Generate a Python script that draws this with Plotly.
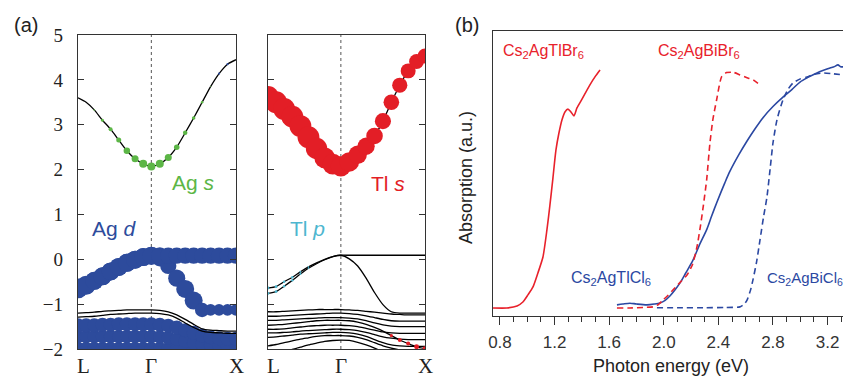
import plotly.graph_objects as go

# ---------------- DATA ----------------
# k-path positions (L -> Gamma -> X)
K = [0.0, 0.096, 0.192, 0.289, 0.385, 0.481, 0.577, 0.674, 0.770, 0.866,
     0.966, 1.066, 1.166, 1.266, 1.366, 1.466, 1.566, 1.666, 1.766, 1.866]
K_TICKS = [0.0, 0.866, 1.866]
K_LABELS = ["L", "Γ", "X"]

# left panel (Ag projections)
L_cb = [3.60, 3.50, 3.33, 3.10, 2.90, 2.66, 2.42, 2.24, 2.13, 2.07,
        2.13, 2.27, 2.50, 2.82, 3.15, 3.50, 3.85, 4.14, 4.35, 4.45]
L_cb_AgS = [0, 0, 0.15, 0.3, 0.4, 0.5, 0.65, 0.7, 0.8, 0.8,
            0.8, 0.7, 0.55, 0.45, 0.35, 0.25, 0.1, 0, 0, 0]
L_cb_AgD = [0, 0, 0, 0, 0, 0, 0, 0, 0, 0,
            0, 0, 0, 0, 0, 0, 0, 0.12, 0.12, 0]
L_d1 = [-0.65, -0.58, -0.48, -0.38, -0.27, -0.17, -0.08, -0.01, 0.05, 0.08,
        0.08, 0.08, 0.08, 0.08, 0.08, 0.08, 0.08, 0.08, 0.08, 0.08]
L_d1_w = [1.1, 1.05, 1, 1, 1, 1, 1, 1, 1, 1,
          0.95, 0.9, 0.9, 0.9, 0.9, 0.9, 0.9, 0.9, 0.9, 0.9]
L_d2 = [-0.65, -0.58, -0.48, -0.38, -0.27, -0.17, -0.08, -0.01, 0.05, 0.08,
        0.02, -0.15, -0.42, -0.66, -0.92, -1.13, -1.13, -1.13, -1.13, -1.13]
L_d2_w = [1, 1, 1, 1, 1, 1, 1, 1, 1, 1,
          0.9, 0.9, 0.95, 1.0, 1.0, 0.8, 0.65, 0.65, 0.65, 0.65]
L_d3 = [-1.47, -1.47, -1.47, -1.46, -1.46, -1.45, -1.45, -1.45, -1.45, -1.45,
        -1.46, -1.48, -1.52, -1.58, -1.64, -1.70, -1.74, -1.76, -1.77, -1.77]
L_d3_w = [0.78] * 20
L_d4 = [-1.72, -1.72, -1.72, -1.72, -1.72, -1.72, -1.72, -1.72, -1.72, -1.72,
        -1.73, -1.75, -1.78, -1.82, -1.86, -1.89, -1.91, -1.92, -1.92, -1.92]
L_d4_w = [0.75] * 20
L_d5 = [-1.99] * 20
L_d5_w = [0.75] * 20
L_c1 = [-1.20, -1.19, -1.18, -1.16, -1.15, -1.14, -1.13, -1.13, -1.13, -1.13,
        -1.14, -1.17, -1.24, -1.34, -1.45, -1.55, -1.58, -1.59, -1.60, -1.60]
L_c2 = [-1.29, -1.28, -1.27, -1.25, -1.23, -1.22, -1.21, -1.20, -1.20, -1.20,
        -1.21, -1.24, -1.31, -1.42, -1.52, -1.60, -1.63, -1.64, -1.65, -1.65]

# right panel (Tl projections)
R_cb = [3.62, 3.50, 3.35, 3.18, 2.97, 2.72, 2.47, 2.26, 2.12, 2.07,
        2.17, 2.33, 2.52, 2.75, 3.08, 3.50, 3.88, 4.20, 4.41, 4.53]
R_cb_TlS = [0.95, 0.95, 0.95, 0.95, 0.95, 0.95, 0.93, 0.9, 0.9, 0.88,
            0.85, 0.8, 0.75, 0.72, 0.7, 0.68, 0.66, 0.65, 0.65, 0.65]
R_v1 = [-0.64, -0.61, -0.50, -0.40, -0.28, -0.17, -0.08, 0.0, 0.06, 0.09,
        0.01, -0.15, -0.42, -0.74, -1.01, -1.17, -1.20, -1.20, -1.20, -1.20]
R_v2 = [-0.76, -0.72, -0.60, -0.47, -0.33, -0.20, -0.10, -0.01, 0.06, 0.09,
        0.09, 0.09, 0.09, 0.09, 0.09, 0.09, 0.09, 0.09, 0.09, 0.09]
R_v_TlP = [0.35, 0.35, 0.3, 0.3, 0.25, 0.2, 0, 0, 0, 0,
           0, 0, 0, 0, 0, 0, 0, 0, 0, 0]
R_r1 = [-1.17, -1.17, -1.16, -1.15, -1.14, -1.13, -1.12, -1.12, -1.12, -1.12,
        -1.13, -1.14, -1.16, -1.18, -1.20, -1.22, -1.23, -1.24, -1.24, -1.24]
R_r2 = [-1.27, -1.27, -1.26, -1.25, -1.24, -1.23, -1.22, -1.21, -1.20, -1.20,
        -1.21, -1.23, -1.26, -1.30, -1.34, -1.37, -1.38, -1.38, -1.38, -1.38]
R_r3 = [-1.36, -1.36, -1.35, -1.34, -1.33, -1.32, -1.31, -1.30, -1.30, -1.30,
        -1.31, -1.33, -1.37, -1.42, -1.46, -1.49, -1.50, -1.50, -1.50, -1.50]
R_r4 = [-1.47, -1.46, -1.45, -1.43, -1.41, -1.39, -1.37, -1.36, -1.36, -1.36,
        -1.37, -1.40, -1.45, -1.52, -1.60, -1.70, -1.80, -1.88, -1.95, -1.99]
R_r4_TlS = [0, 0, 0, 0, 0, 0, 0, 0, 0, 0,
            0, 0, 0, 0, 0, 0.2, 0.25, 0.25, 0.3, 0.3]
R_r5 = [-1.56, -1.56, -1.55, -1.53, -1.51, -1.49, -1.48, -1.47, -1.47, -1.47,
        -1.48, -1.50, -1.54, -1.58, -1.62, -1.64, -1.65, -1.65, -1.65, -1.65]
R_r6 = [-1.64, -1.64, -1.63, -1.62, -1.60, -1.59, -1.58, -1.57, -1.56, -1.56,
        -1.57, -1.59, -1.63, -1.68, -1.73, -1.76, -1.78, -1.79, -1.79, -1.79]
R_r7 = [-1.74, -1.73, -1.71, -1.69, -1.67, -1.66, -1.65, -1.64, -1.63, -1.63,
        -1.64, -1.67, -1.72, -1.79, -1.86, -1.91, -1.93, -1.94, -1.94, -1.94]
R_r8 = [-1.93, -1.90, -1.86, -1.82, -1.78, -1.75, -1.72, -1.70, -1.70, -1.70,
        -1.71, -1.74, -1.79, -1.86, -1.93, -1.98, -2.02, -2.05, -2.05, -2.05]
R_r9 = [-2.10, -2.08, -2.05, -2.01, -1.96, -1.91, -1.87, -1.83, -1.81, -1.80,
        -1.81, -1.85, -1.91, -1.98, -2.06, -2.12, -2.15, -2.15, -2.15, -2.15]

# panel (b) absorption spectra
TlBr_E = [0.749, 0.851, 0.925, 0.968, 1.005, 1.042, 1.078, 1.115, 1.144, 1.166,
          1.188, 1.210, 1.232, 1.254, 1.276, 1.298, 1.320, 1.342, 1.364, 1.401,
          1.459, 1.496, 1.533]
TlBr_A = [0.028, 0.028, 0.035, 0.049, 0.074, 0.102, 0.151, 0.207, 0.302, 0.389,
          0.484, 0.582, 0.642, 0.688, 0.716, 0.726, 0.716, 0.702, 0.730, 0.761,
          0.811, 0.839, 0.863]
BiBr_E = [1.657, 1.75, 1.85, 1.921, 1.96, 1.994, 2.03, 2.067, 2.12, 2.17,
          2.21, 2.243, 2.27, 2.289, 2.314, 2.338, 2.36, 2.387, 2.424, 2.46,
          2.51, 2.558, 2.61, 2.656, 2.705]
BiBr_A = [0.028, 0.028, 0.030, 0.032, 0.040, 0.056, 0.072, 0.091, 0.118, 0.144,
          0.180, 0.242, 0.320, 0.384, 0.477, 0.606, 0.690, 0.758, 0.840, 0.854,
          0.855, 0.846, 0.836, 0.828, 0.811]
TlCl_E = [1.657, 1.70, 1.752, 1.80, 1.877, 1.93, 1.972, 2.01, 2.045, 2.08,
          2.119, 2.16, 2.214, 2.26, 2.316, 2.35, 2.39, 2.448, 2.485, 2.55,
          2.61, 2.67, 2.727, 2.80, 2.873, 2.94, 2.998, 3.06, 3.122, 3.17,
          3.218, 3.25, 3.276, 3.295, 3.313]
TlCl_A = [0.039, 0.042, 0.045, 0.042, 0.039, 0.042, 0.046, 0.055, 0.070, 0.090,
          0.116, 0.150, 0.196, 0.248, 0.305, 0.350, 0.400, 0.468, 0.508, 0.566,
          0.614, 0.658, 0.696, 0.735, 0.768, 0.795, 0.821, 0.838, 0.853, 0.862,
          0.870, 0.875, 0.881, 0.875, 0.874]
BiCl_E = [1.95, 2.1, 2.3, 2.45, 2.558, 2.59, 2.61, 2.635, 2.653, 2.68,
          2.705, 2.73, 2.756, 2.78, 2.80, 2.83, 2.873, 2.91, 2.947, 3.0,
          3.049, 3.1, 3.166, 3.24, 3.313]
BiCl_A = [0.029, 0.029, 0.029, 0.030, 0.032, 0.042, 0.056, 0.090, 0.126, 0.190,
          0.267, 0.345, 0.418, 0.520, 0.607, 0.690, 0.758, 0.795, 0.818, 0.832,
          0.839, 0.848, 0.853, 0.850, 0.846]
E_TICKS = [0.8, 1.2, 1.6, 2.0, 2.4, 2.8, 3.2]

# ---------------- STYLE ----------------
W, H = 843, 379
def PX(x): return x / W
def PY(y): return 1 - y / H

GREEN = "#5cb646"
BLUE = "#2d4b9c"
RED = "#e31e26"
CYAN = "#4db6cf"
SP_RED = "#e8212b"
SP_BLUE = "#2b48a2"
FRAME = "#333333"
SANS = "Liberation Sans, Arial, sans-serif"
SERIF = "Liberation Serif, Times New Roman, serif"

fig = go.Figure()

def band_line(y, xa, ya, width=1.3):
    fig.add_trace(go.Scatter(x=K, y=y, mode="lines", xaxis=xa, yaxis=ya,
                             line=dict(color="black", width=width, shape="spline", smoothing=0.6),
                             hoverinfo="skip", showlegend=False))

def band_dots(y, w, scale, color, xa, ya):
    xs = [k for k, ww in zip(K, w) if ww > 0]
    ys = [e for e, ww in zip(y, w) if ww > 0]
    ss = [ww * scale for ww in w if ww > 0]
    fig.add_trace(go.Scatter(x=xs, y=ys, mode="markers", xaxis=xa, yaxis=ya,
                             marker=dict(color=color, size=ss, opacity=1, line=dict(width=0)),
                             hoverinfo="skip", showlegend=False))

# left panel
for b in [L_cb, L_d1, L_d2, L_d3, L_d4, L_d5]:
    band_line(b, "x", "y")
band_dots(L_d5, L_d5_w, 18, BLUE, "x", "y")
band_dots(L_d4, L_d4_w, 18, BLUE, "x", "y")
band_dots(L_d3, L_d3_w, 18, BLUE, "x", "y")
band_dots(L_d2, L_d2_w, 18, BLUE, "x", "y")
band_dots(L_d1, L_d1_w, 18, BLUE, "x", "y")
band_line(L_c1, "x", "y")
band_line(L_c2, "x", "y")
band_dots(L_cb, L_cb_AgD, 18, BLUE, "x", "y")
band_dots(L_cb, L_cb_AgS, 10, GREEN, "x", "y")

# right panel
for b in [R_cb, R_v1, R_v2, R_r1, R_r2, R_r3, R_r4, R_r5, R_r6, R_r7, R_r8, R_r9]:
    band_line(b, "x2", "y2")
band_dots(R_cb, R_cb_TlS, 23, RED, "x2", "y2")
band_dots(R_r4, R_r4_TlS, 16, RED, "x2", "y2")
band_dots(R_v1, R_v_TlP, 8, CYAN, "x2", "y2")
band_dots(R_v2, R_v_TlP, 8, CYAN, "x2", "y2")

# panel b spectra
fig.add_trace(go.Scatter(x=TlBr_E, y=TlBr_A, mode="lines", xaxis="x3", yaxis="y3",
                         line=dict(color=SP_RED, width=1.6, shape="spline", smoothing=0.6),
                         hoverinfo="skip", showlegend=False))
fig.add_trace(go.Scatter(x=BiCl_E, y=BiCl_A, mode="lines", xaxis="x3", yaxis="y3",
                         line=dict(color=SP_BLUE, width=1.6, dash="6px,4px", shape="spline", smoothing=0.6),
                         hoverinfo="skip", showlegend=False))
fig.add_trace(go.Scatter(x=TlCl_E, y=TlCl_A, mode="lines", xaxis="x3", yaxis="y3",
                         line=dict(color=SP_BLUE, width=1.6, shape="spline", smoothing=0.8),
                         hoverinfo="skip", showlegend=False))
fig.add_trace(go.Scatter(x=BiBr_E, y=BiBr_A, mode="lines", xaxis="x3", yaxis="y3",
                         line=dict(color=SP_RED, width=1.6, dash="6px,4px", shape="spline", smoothing=0.6),
                         hoverinfo="skip", showlegend=False))

# Gamma dotted lines
for xa, ya in [("x", "y"), ("x2", "y2")]:
    fig.add_shape(type="line", xref=xa, yref=ya + " domain", x0=K_TICKS[1], x1=K_TICKS[1],
                  y0=0, y1=1, line=dict(color="#555555", width=1, dash="dot"), layer="below")

band_x = dict(range=[K_TICKS[0], K_TICKS[2]], showline=True, linecolor=FRAME, linewidth=1.3,
              mirror=True, ticks="", showticklabels=False, showgrid=False, zeroline=False)
band_y = dict(range=[-2, 5], dtick=1, tick0=0, showline=True, linecolor=FRAME, linewidth=1.3,
              mirror="allticks", ticks="inside", ticklen=6, tickcolor=FRAME, tickwidth=1.2,
              showgrid=False, zeroline=False)

fig.update_layout(
    width=W, height=H, margin=dict(l=0, r=0, t=0, b=0, autoexpand=False),
    paper_bgcolor="white", plot_bgcolor="white", showlegend=False,
    xaxis=dict(domain=[PX(78), PX(236)], anchor="y", **band_x),
    yaxis=dict(domain=[PY(349), PY(35)], anchor="x", showticklabels=True,
               tickfont=dict(family=SERIF, size=19, color="#222"), ticklabelstandoff=10, **band_y),
    xaxis2=dict(domain=[PX(268), PX(425)], anchor="y2", **band_x),
    yaxis2=dict(domain=[PY(349), PY(35)], anchor="x2", showticklabels=False, **band_y),
    xaxis3=dict(domain=[PX(493), 1.0], anchor="y3", range=[0.749, 3.313],
                showline=True, linecolor=FRAME, linewidth=1.3, mirror=True,
                tickvals=E_TICKS, tickformat=".1f", ticks="outside", ticklen=8, tickwidth=1.2,
                tickcolor=FRAME, tickfont=dict(family=SANS, size=17, color="#333"),
                ticklabelstandoff=2,
                minor=dict(dtick=0.1, tick0=0.8, ticks="outside", ticklen=5, tickwidth=1.2, tickcolor=FRAME),
                showgrid=False, zeroline=False),
    yaxis3=dict(domain=[PY(316), PY(31)], anchor="x3", range=[0, 1], showline=True,
                linecolor=FRAME, linewidth=1.3, ticks="", showticklabels=False,
                showgrid=False, zeroline=False),
)

ann = []
def text(x, y, t, size, color, family=SANS, xanchor="center", angle=0):
    ann.append(dict(x=PX(x), y=PY(y), xref="paper", yref="paper", text=t, showarrow=False,
                    xanchor=xanchor, yanchor="middle", textangle=angle,
                    font=dict(family=family, size=size, color=color)))

# k labels
for xs in [[83, 151, 236], [273, 341, 425]]:
    for xp, lab in zip(xs, K_LABELS):
        text(xp, 366, lab, 21, "#222", family=SERIF)

text(26, 25, "(a)", 20, "#222")
text(467, 25, "(b)", 20, "#222")
text(193, 182, "Ag <i>s</i>", 21, GREEN)
text(114, 228, "Ag <i>d</i>", 21, BLUE)
text(388, 183, "Tl <i>s</i>", 21, RED)
text(307, 228, "Tl <i>p</i>", 21, CYAN)
text(543, 52, "Cs<sub>2</sub>AgTlBr<sub>6</sub>", 16, SP_RED)
text(699, 52, "Cs<sub>2</sub>AgBiBr<sub>6</sub>", 16, SP_RED)
text(611, 278, "Cs<sub>2</sub>AgTlCl<sub>6</sub>", 16, SP_BLUE)
text(765, 278, "Cs<sub>2</sub>AgBiCl<sub>6</sub>", 15, SP_BLUE, xanchor="left")
text(671, 366, "Photon energy (eV)", 18, "#222")
text(466, 178, "Absorption (a.u.)", 18, "#222", angle=-90)
fig.update_layout(annotations=ann)

fig.write_html("out.html")
